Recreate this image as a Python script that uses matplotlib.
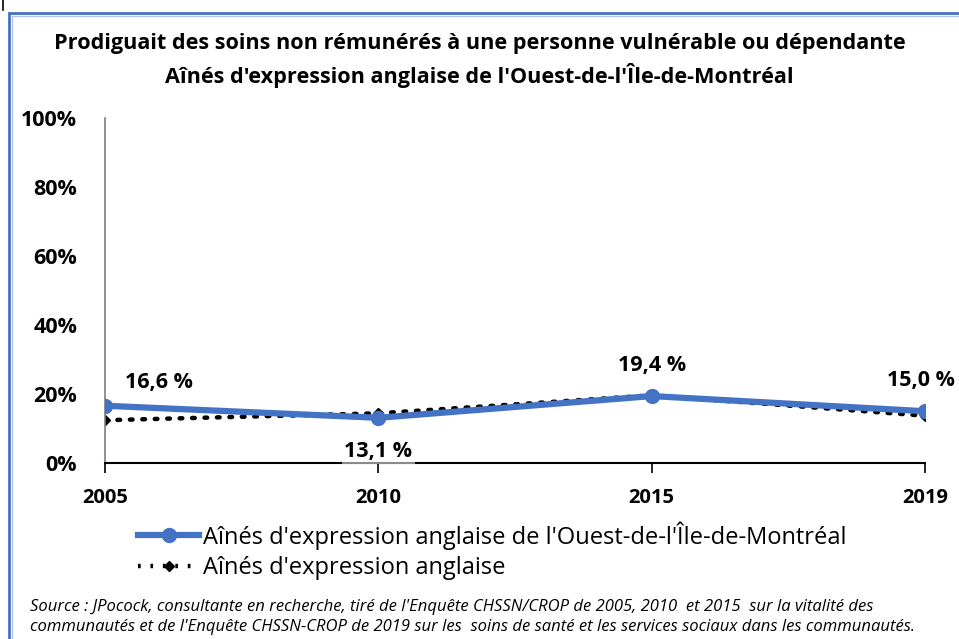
import matplotlib
matplotlib.use("Agg")
import matplotlib.pyplot as plt
from matplotlib.lines import Line2D
from matplotlib.patches import Rectangle

years = ["2005", "2010", "2015", "2019"]
ouest_montreal = [16.6, 13.1, 19.4, 15.0]
aines_anglais = [12.4, 14.4, 19.6, 13.7]
value_labels = ["16,6 %", "13,1 %", "19,4 %", "15,0 %"]
y_ticks = [0, 20, 40, 60, 80, 100]

title = ("Prodiguait des soins non rémunérés à une personne vulnérable ou dépendante\n"
         "Aînés d'expression anglaise de l'Ouest-de-l'Île-de-Montréal")
series_names = ["Aînés d'expression anglaise de l'Ouest-de-l'Île-de-Montréal",
                "Aînés d'expression anglaise"]
source = ("Source : JPocock, consultante en recherche, tiré de l'Enquête CHSSN/CROP de 2005, 2010  et 2015  sur la vitalité des\n"
          "communautés et de l'Enquête CHSSN-CROP de 2019 sur les  soins de santé et les services sociaux dans les communautés.")

plt.rcParams["font.family"] = ["Open Sans", "DejaVu Sans"]

W, H = 959, 639
fig = plt.figure(figsize=(W / 100, H / 100), dpi=100)
fig.patch.set_facecolor("white")

# chart frame
fig.patches.append(Rectangle((9 / W, -0.05), 1.2, 1.05 - 13 / H, transform=fig.transFigure,
                             fill=False, edgecolor="#4472C4", linewidth=2.0))
fig.patches.append(Rectangle((12 / W, -0.05), 1.2, 1.05 - 16 / H, transform=fig.transFigure,
                             fill=False, edgecolor="#B4C7E7", linewidth=1.0))
fig.add_artist(Line2D([3 / W, 3 / W], [1 - 10 / H, 1.0], transform=fig.transFigure,
                      color="black", linewidth=1.2))

ax = fig.add_axes([105 / W, 1 - 463 / H, (925 - 105) / W, (463 - 118) / H])
x = list(range(len(years)))

ax.plot(x, aines_anglais, color="black", linestyle=(0, (0.6, 2.2)), linewidth=3.2,
        dash_capstyle="round", marker="D", markersize=5, zorder=2)
ax.plot(x, ouest_montreal, color="#4472C4", linewidth=4.5, marker="o", markersize=10,
        solid_capstyle="round", zorder=3)

ax.set_xlim(0, 3)
ax.set_ylim(0, 100)
ax.set_yticks(y_ticks)
ax.set_yticklabels([f"{v}%" for v in y_ticks], fontsize=15.5, fontweight="bold")
ax.set_xticks(x)
ax.set_xticklabels(years, fontsize=14.5, fontweight="bold")
ax.tick_params(axis="y", length=0, pad=20)
ax.tick_params(axis="x", length=7, width=1.2, color="black", direction="out", pad=11)
for s in ["top", "right"]:
    ax.spines[s].set_visible(False)
ax.spines["left"].set_color("#7F7F7F")
ax.spines["left"].set_linewidth(1.2)
ax.spines["bottom"].set_color("black")
ax.spines["bottom"].set_linewidth(1.5)

# data labels (offsets in points)
offsets = [(39, 17), (0, -24), (0, 22), (-3, 22)]
for xi, v, lab, (dx, dy) in zip(x, ouest_montreal, value_labels, offsets):
    kw = {}
    if xi == 1:
        kw["bbox"] = dict(boxstyle="square,pad=0.12", facecolor="white", edgecolor="none", alpha=0.55)
    ax.annotate(lab, (xi, v), xytext=(dx, dy), textcoords="offset points",
                ha="center", va="center", fontsize=15.5, fontweight="bold",
                annotation_clip=False, clip_on=False, **kw)

fig.text(0.5, 1 - 60 / H, title, ha="center", va="center", fontsize=15.6,
         fontweight="bold", linespacing=1.45)

# legend
handles = [Line2D([], [], color="#4472C4", linewidth=4.5, marker="o", markersize=10),
           Line2D([], [], color="black", linestyle=(0, (0.6, 2.2)), linewidth=3.2,
                  marker="D", markersize=5)]
fig.legend(handles, series_names, loc="upper left", bbox_to_anchor=(138 / W, 1 - 521 / H),
           frameon=False, fontsize=17, handlelength=2.6, handletextpad=0.15,
           labelspacing=0.28, borderaxespad=0, borderpad=0)

fig.text(30 / W, 1 - 617 / H, source, ha="left", va="center", fontsize=12,
         style="italic", linespacing=1.3)

fig.savefig("out.png", dpi=100)
